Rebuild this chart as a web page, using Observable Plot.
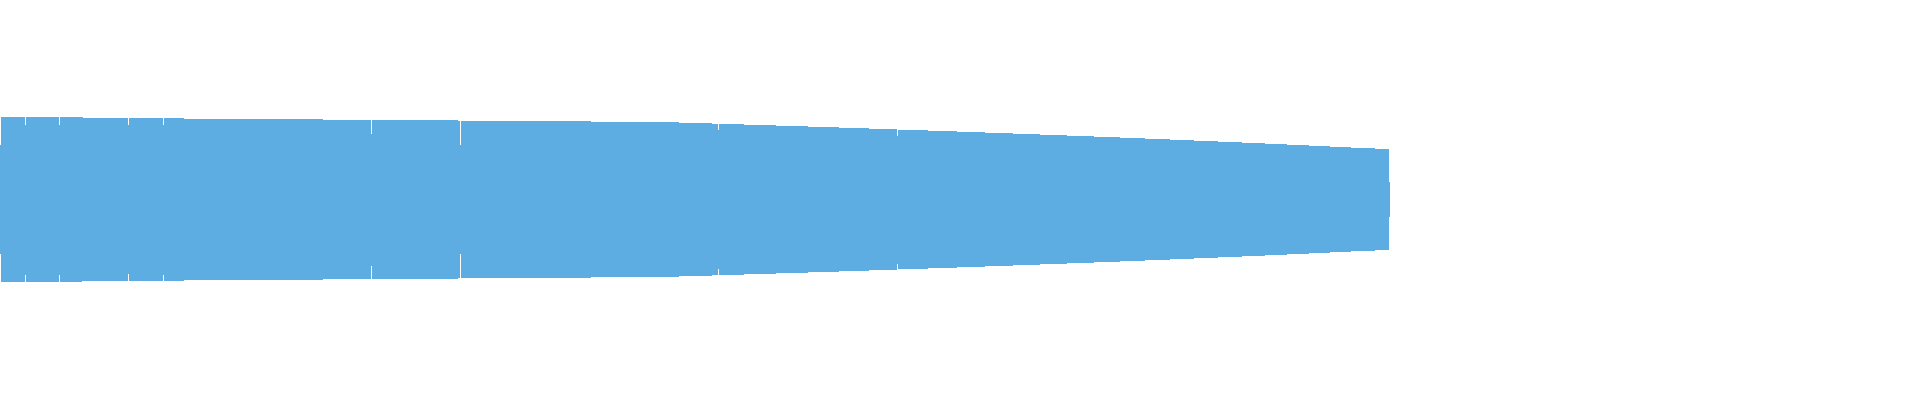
<!DOCTYPE html>
<html>
<head>
<meta charset="utf-8">
<script src="https://cdn.jsdelivr.net/npm/d3@7"></script>
<script src="https://cdn.jsdelivr.net/npm/@observablehq/plot@0.6"></script>
<style>
  html, body { margin: 0; padding: 0; background: #ffffff; }
  #chart { width: 1920px; height: 400px; }
</style>
</head>
<body>
<div id="chart"></div>
<script>
// Outer silhouette: position along the flow and half-thickness
const edgeX    = [1, 184, 323, 458, 591, 679, 712, 776, 839, 898, 957, 1013, 1067, 1120, 1170, 1218, 1265, 1309, 1351, 1389];
const edgeHalf = [82.8, 81, 80, 79, 78, 77, 76, 74, 72, 70, 68, 66, 64, 62, 60, 58, 56, 54, 52, 50.4];

// Innermost band (visible only at both ends)
const coreX    = [0, 1390];
const coreHalf = [55, 17];

// Separations between segments: position, depth reached, outer half-thickness there
const gapX     = [25, 59, 128, 163, 371, 460, 718, 897];
const gapDepth = [75, 75, 74.8, 75, 66, 54.8, 69.8, 64];
const gapOuter = [83, 82.6, 82, 81.8, 79.8, 79, 76, 70];

const fillColor = "#5dace2";

const edge = edgeX.map((x, i) => ({x, h: edgeHalf[i]}));
const core = coreX.map((x, i) => ({x, h: coreHalf[i]}));
const gaps = gapX.map((x, i) => ({x, depth: gapDepth[i], outer: gapOuter[i]}));

const chart = Plot.plot({
  width: 1920,
  height: 400,
  margin: 0,
  x: {domain: [0, 1920], axis: null},
  y: {domain: [-200.5, 199.5], axis: null},
  marks: [
    Plot.areaY(core, {x: "x", y1: d => -d.h, y2: d => d.h, fill: fillColor, shapeRendering: "crispEdges"}),
    Plot.areaY(edge, {x: "x", y1: d => -d.h, y2: d => d.h, fill: fillColor, shapeRendering: "crispEdges"}),
    Plot.ruleX(gaps, {x: "x", y1: "depth", y2: d => d.outer + 2, stroke: "#ffffff", strokeWidth: 1, shapeRendering: "crispEdges"}),
    Plot.ruleX(gaps, {x: "x", y1: d => -d.depth, y2: d => -(d.outer + 2), stroke: "#ffffff", strokeWidth: 1, shapeRendering: "crispEdges"})
  ]
});
document.getElementById("chart").appendChild(chart);
</script>
</body>
</html>
